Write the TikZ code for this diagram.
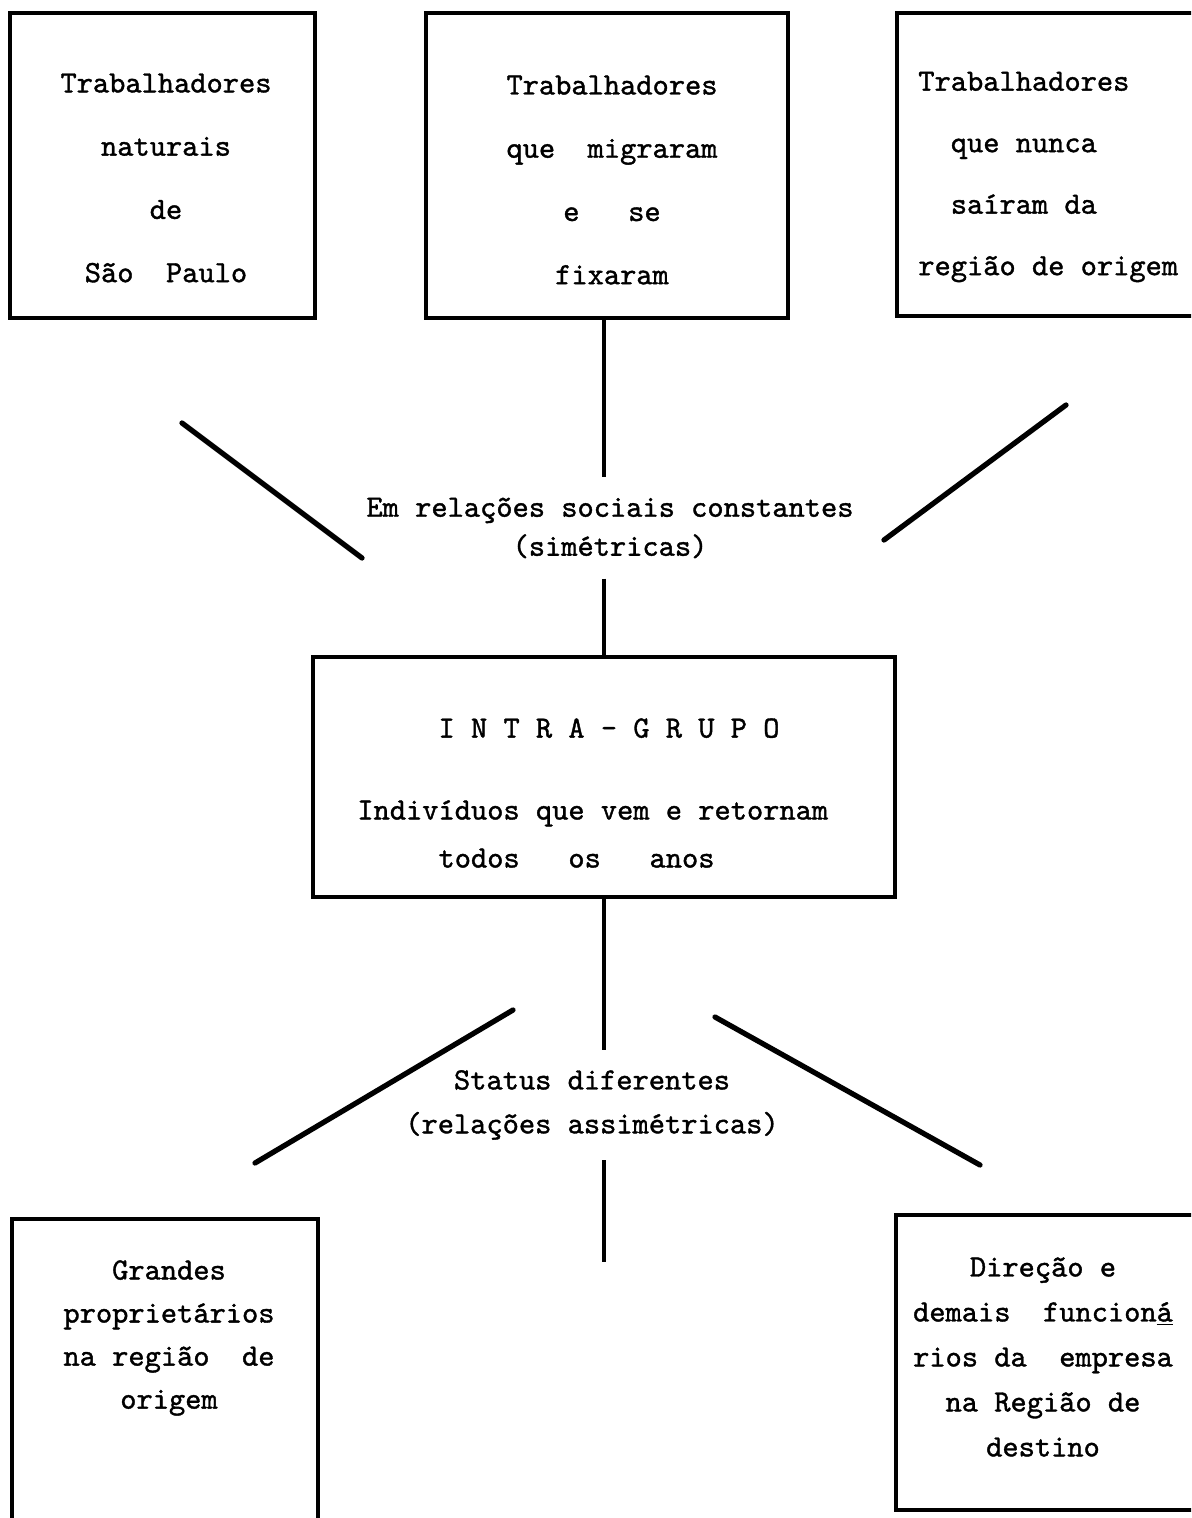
\documentclass[tikz,border=0pt]{standalone}
\usepackage{fontspec}
\usetikzlibrary{fit}
\newfontfamily\typew[FakeBold=1.2]{lmmono10-regular.otf}
\newcommand{\tw}[1]{\typew\fontsize{17.6}{#1}\selectfont}

\begin{document}
\begin{tikzpicture}[x=0.02cm, y=-0.02cm,
    box/.style={draw, line width=2.8pt, inner sep=0pt},
    txt/.style={align=center, inner sep=0pt},
    rel/.style={align=center, inner xsep=0pt, inner ysep=0.4cm},
    vline/.style={line width=2.3pt},
    dline/.style={line width=3pt, line cap=round}]

  \useasboundingbox (0,0) rectangle (1191,1518);
  \clip (0,0) rectangle (1191,1518);

  % caixas de cima
  \node (b1) [box, fit={(10,13) (315,318)}] {};
  \node (b2) [box, fit={(426,13) (788,318)}] {};
  \node (b3) [box, fit={(897,13) (1215,316)}] {};

  \node (t1) [txt, font=\tw{36pt}] at (166,178) {Trabalhadores\\naturais\\de\\São~~Paulo};
  \node (t2) [txt, font=\tw{36pt}] at (612,180) {Trabalhadores\\que~~migraram\\e~~~se\\fixaram};
  \node (t3) [txt, align=left, anchor=west, font=\tw{35pt}] at (918,177)
     {Trabalhadores\\\phantom{xx}que nunca\\\phantom{xx}saíram da\\região de origem};

  % relacoes simetricas
  \node (rel1) [rel, font=\tw{22.2pt}] at (610,528) {Em relações sociais constantes\\(simétricas)};

  \coordinate (d1) at (182,423);
  \coordinate (d2) at (362,558);
  \coordinate (d3) at (1066,405);
  \coordinate (d4) at (884,540);
  \draw[dline] (d1) -- (d2);
  \draw[dline] (d3) -- (d4);

  % intra-grupo
  \node (bc) [box, fit={(313,657) (895,897)}] {};
  \node (tc) [txt, align=left, anchor=west, font=\tw{27.3pt}] at (357,793)
     {\phantom{xxxxx}I N T R A - G R U P O\\[0.68cm]Indivíduos que vem e retornam\\\phantom{xxxxx}todos~~~os~~~anos};

  \draw[vline] (bc.north |- b2.south) -- (bc.north |- rel1.north);
  \draw[vline] (bc.north |- rel1.south) -- (bc.north);

  % relacoes assimetricas
  \node (rel2) [rel, font=\tw{25pt}] at (592,1105) {Status diferentes\\(relações assimétricas)};

  \coordinate (d5) at (513,1010);
  \coordinate (d6) at (255,1163);
  \coordinate (d7) at (715,1017);
  \coordinate (d8) at (980,1165);
  \coordinate (e1) at (604,1262);
  \draw[dline] (d5) -- (d6);
  \draw[dline] (d7) -- (d8);
  \draw[vline] (bc.south) -- (bc.south |- rel2.north);
  \draw[vline] (bc.south |- rel2.south) -- (e1);

  % caixas de baixo
  \node (b4) [box, fit={(12,1219) (318,1545)}] {};
  \node (b5) [box, fit={(896,1215) (1215,1510)}] {};

  \node (t4) [txt, font=\tw{24.5pt}] at (169,1338) {Grandes\\proprietários\\na região~~de\\origem};
  \node (t5) [txt, font=\tw{25.6pt}] at (1043,1357) {Direção e\\demais~~funcion\underline{á}\\rios da~~empresa\\na Região de\\destino};

\end{tikzpicture}
\end{document}
